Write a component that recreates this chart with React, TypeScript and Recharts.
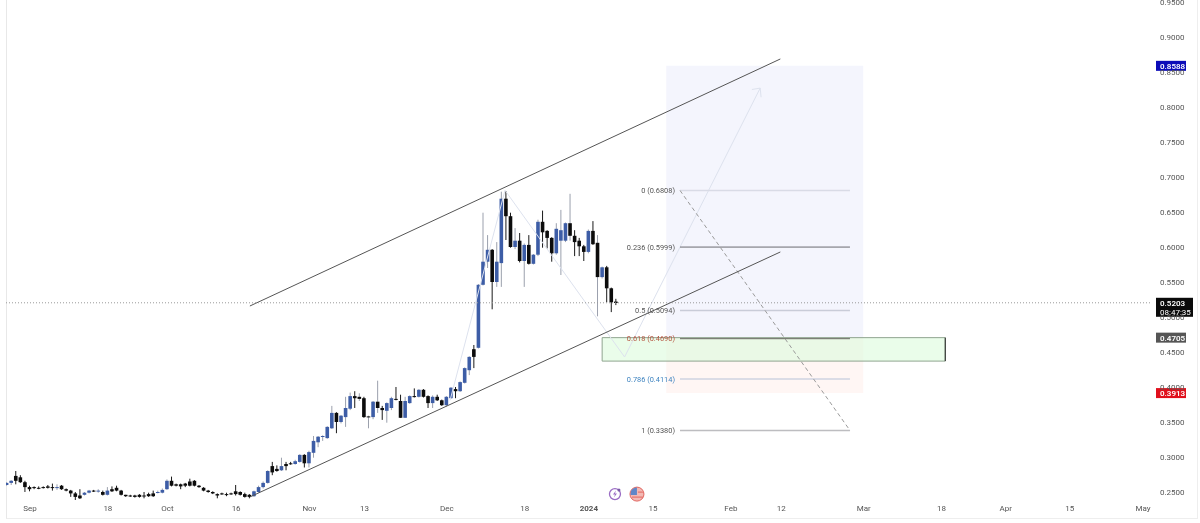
import { Bar, ComposedChart, ReferenceArea, ReferenceDot, ReferenceLine, XAxis, YAxis } from 'recharts';

const FIRST_DAY = -5; // day 0 is 1 Sep 2023

const opens = [
  .260, .263, .273, .271, .264, .257, .257, .256, .257, .258, .257, .256, .259, .254, .252, .248, .245, .246, .249, .252,
  .251, .250, .246, .254, .256, .252, .246, .245, .245, .246, .245, .247, .248, .249, .249, .254, .266, .261, .261, .262,
  .265, .266, .259, .256, .252, .250, .247, .248, .247, .248, .251, .250, .247, .246, .244, .250, .257, .263, .287, .283,
  .281, .290, .291, .290, .293, .303, .291, .306, .321, .329, .327, .341, .363, .350, .357, .369, .387, .386, .384, .358,
  .357, .379, .370, .366, .370, .383, .380, .356, .377, .387, .386, .396, .387, .377, .386, .381, .374, .384, .397, .394,
  .406, .424, .454, .456, .546, .579, .596, .550, .577, .669, .644, .600, .609, .580, .603, .576, .589, .636, .623, .613,
  .591, .609, .609, .634, .616, .609, .601, .593, .623, .606, .557, .571, .541, .522,
];
const highs = [
  .264, .267, .280, .274, .266, .259, .258, .258, .258, .260, .262, .261, .260, .255, .253, .250, .254, .250, .253, .253,
  .254, .252, .257, .258, .259, .253, .246, .246, .246, .247, .250, .249, .252, .252, .255, .268, .272, .262, .262, .263,
  .269, .267, .260, .257, .253, .251, .248, .249, .249, .249, .260, .251, .249, .247, .252, .259, .265, .281, .293, .288,
  .299, .293, .293, .296, .304, .304, .309, .330, .330, .331, .344, .373, .364, .360, .386, .392, .394, .391, .386, .359,
  .380, .409, .373, .378, .386, .400, .389, .386, .388, .398, .397, .397, .388, .388, .389, .382, .387, .400, .400, .408,
  .428, .444, .460, .547, .649, .617, .597, .607, .679, .680, .649, .627, .620, .605, .617, .590, .639, .652, .624, .614,
  .634, .653, .635, .676, .624, .613, .603, .625, .637, .617, .572, .573, .542, .526,
];
const lows = [
  .259, .260, .261, .263, .250, .251, .254, .254, .255, .255, .252, .253, .253, .251, .243, .238, .240, .245, .248, .250,
  .249, .245, .245, .250, .251, .245, .243, .243, .242, .242, .241, .243, .243, .248, .248, .253, .258, .258, .254, .257,
  .258, .258, .256, .251, .249, .247, .241, .246, .244, .246, .245, .245, .242, .241, .243, .249, .255, .262, .274, .279,
  .280, .281, .289, .289, .292, .285, .285, .299, .314, .323, .326, .340, .334, .348, .343, .367, .370, .380, .356, .341,
  .354, .363, .353, .349, .367, .381, .356, .356, .376, .385, .385, .385, .370, .370, .380, .373, .372, .383, .384, .393,
  .405, .417, .427, .455, .545, .570, .511, .543, .543, .610, .599, .597, .578, .543, .575, .575, .587, .599, .598, .579,
  .589, .560, .607, .609, .587, .587, .580, .591, .603, .501, .555, .521, .507, .517,
];
const closes = [
  .263, .266, .266, .264, .257, .254, .256, .255, .256, .256, .256, .257, .254, .252, .248, .243, .241, .249, .252, .251,
  .252, .246, .252, .251, .252, .246, .244, .244, .243, .243, .244, .244, .244, .250, .253, .266, .259, .259, .258, .259,
  .259, .259, .257, .252, .250, .248, .245, .247, .246, .247, .247, .246, .243, .243, .251, .257, .263, .280, .278, .280,
  .287, .287, .290, .294, .303, .291, .307, .323, .329, .330, .343, .363, .350, .359, .370, .387, .384, .383, .357, .357,
  .379, .370, .367, .377, .384, .382, .356, .380, .387, .386, .396, .386, .377, .386, .381, .374, .386, .399, .394, .407,
  .427, .443, .443, .546, .579, .596, .550, .579, .669, .644, .600, .609, .580, .603, .576, .589, .636, .621, .613, .591,
  .626, .624, .634, .616, .607, .601, .593, .623, .604, .557, .571, .541, .521, .520,
];
// down candles whose wick is pale in the picture
const paleWickDays = [72, 74, 76, 118, 124];

const tickDays = [0, 17, 30, 45, 61, 73, 91, 108, 122, 136, 153, 164, 182, 199, 213, 227, 243];
const tickLabels = ['Sep', '18', 'Oct', '16', 'Nov', '13', 'Dec', '18', '2024', '15', 'Feb', '12', 'Mar', '18', 'Apr', '15', 'May'];
const priceTicks = [.25, .3, .35, .4, .45, .5, .55, .6, .65, .7, .75, .8, .85, .9, .95];

const channelStart = 48;
const channelEnd = 163.8;
const upperChannel = [.5157, .8686];
const lowerChannel = [.2429, .5929];

const zigDays = [91.7, 103.7, 129.8, 159.4];
const zigPrices = [.381, .681, .4429, .827];

const fibStart = 141.9;
const fibEnd = 179;
const fibPrices = [.6808, .5999, .5094, .469, .4114, .338];
const fibLabels = ['0 (0.6808)', '0.236 (0.5999)', '0.5 (0.5094)', '0.618 (0.4690)', '0.786 (0.4114)', '1 (0.3380)'];
const fibLineColors = ['#d9dbe6', '#6a6a70', '#c9ccd8', '#66665f', '#cfd3e2', '#bdbdc0'];
const fibLabelColors = ['#555', '#555', '#555', '#b5543f', '#3f84c0', '#555'];

const candles = opens.map((open, i) => ({
  day: FIRST_DAY + i,
  open,
  high: highs[i],
  low: lows[i],
  close: closes[i],
}));

const FONT = 'Roboto, Arial, sans-serif';

function Candle(props: any) {
  const { x, y, width, height, payload } = props;
  const { open, close, high, low, day } = payload;
  const up = close >= open;
  const perUnit = height / (high - low);
  const bodyTop = y + (high - Math.max(open, close)) * perUnit;
  const bodyHeight = Math.max(Math.abs(open - close) * perUnit, 1);
  const mid = x + width / 2;
  const wick = up || paleWickDays.includes(day) ? '#9ba0ad' : '#1a1a1a';
  return (
    <g>
      <line x1={mid} x2={mid} y1={y} y2={y + height} stroke={wick} strokeWidth={1} />
      <rect x={x} y={bodyTop} width={width} height={bodyHeight} fill={up ? '#3d5da6' : '#0c0c0c'} />
    </g>
  );
}

function DayTick(props: any) {
  const { x, y, payload } = props;
  const label = tickLabels[tickDays.indexOf(payload.value)];
  return (
    <text x={x} y={y} textAnchor="middle" dominantBaseline="central" fontFamily={FONT} fontSize={8} fontWeight={label === '2024' ? 700 : 400} fill="#555">
      {label}
    </text>
  );
}

function PriceTag(props: any) {
  const { viewBox, value, color, sub } = props;
  const left = viewBox.x + viewBox.width + 6;
  const mid = viewBox.y;
  if (sub) {
    return (
      <g fontFamily={FONT} fontSize={8} fill="#fff">
        <rect x={left} y={mid - 5} width={37} height={19} fill={color} />
        <text x={left + 4} y={mid + 3} fontWeight={600}>{value}</text>
        <text x={left + 4} y={mid + 12}>{sub}</text>
      </g>
    );
  }
  return (
    <g fontFamily={FONT} fontSize={8} fill="#fff">
      <rect x={left} y={mid - 5} width={30} height={10} fill={color} />
      <text x={left + 4} y={mid + 3} fontWeight={600}>{value}</text>
    </g>
  );
}

function BoltIcon(props: any) {
  const { cx, cy } = props;
  return (
    <g>
      <circle cx={cx} cy={cy} r={5.5} fill="#fff" stroke="#9a6cc4" strokeWidth={1.3} />
      <path d={`M${cx + 1} ${cy - 3.5} L${cx - 2} ${cy + 0.5} L${cx} ${cy + 0.5} L${cx - 1} ${cy + 3.5} L${cx + 2} ${cy - 0.5} L${cx} ${cy - 0.5} Z`} fill="#9a6cc4" />
      <circle cx={cx + 4} cy={cy - 4} r={1.5} fill="#7a5aa8" />
    </g>
  );
}

function FlagIcon(props: any) {
  const { cx, cy } = props;
  return (
    <g>
      <circle cx={cx} cy={cy} r={7} fill="#f3b9b4" stroke="#e2655f" strokeWidth={1} />
      <path d={`M${cx - 6} ${cy - 3} A7 7 0 0 1 ${cx} ${cy - 6.5} L${cx} ${cy + 1} L${cx - 6.5} ${cy + 1} Z`} fill="#5f86c8" />
      <line x1={cx - 5} x2={cx + 6} y1={cy + 3} y2={cy + 3} stroke="#e2655f" strokeWidth={1} />
      <line x1={cx + 1} x2={cx + 6} y1={cy - 2} y2={cy - 2} stroke="#e2655f" strokeWidth={1} />
    </g>
  );
}

const zigColor = '#dde2ee';

export default function App() {
  return (
    <div style={{ position: 'absolute', left: 0, top: 0, width: 1200, height: 523, background: '#fff', overflow: 'hidden', filter: 'blur(0.4px)' }}>
      <div style={{ position: 'absolute', left: 6, top: -1, width: 1190, height: 519, borderLeft: '1px solid #e8e8e8', borderRight: '1px solid #eeeeee', borderBottom: '1px solid #eeeeee' }} />
      <ComposedChart width={1200} height={523} data={candles} margin={{ top: 0, right: 0, bottom: 0, left: 6 }} style={{ position: 'absolute' }}>
        <XAxis
          dataKey="day"
          type="number"
          domain={[-5.24, 244.5]}
          allowDataOverflow
          ticks={tickDays}
          interval={0}
          height={23}
          axisLine={false}
          tickLine={false}
          tickMargin={2}
          tick={<DayTick />}
        />
        <YAxis
          orientation="right"
          domain={[.23857, .95286]}
          allowDataOverflow
          ticks={priceTicks}
          interval={0}
          width={50}
          axisLine={false}
          tickLine={false}
          tickMargin={4}
          tickFormatter={(v: number) => v.toFixed(4)}
          tick={{ fontFamily: FONT, fontSize: 8, fill: '#555', textAnchor: 'start' }}
        />

        <ReferenceArea x1={138.9} x2={181.9} y1={.4705} y2={.8588} fill="#f4f5fd" fillOpacity={1} stroke="none" />
        <ReferenceArea x1={138.9} x2={181.9} y1={.3913} y2={.4705} fill="#fff6f4" fillOpacity={1} stroke="none" />
        <ReferenceArea x1={124.9} x2={199.8} y1={.437} y2={.4705} fill="#dcfbdc" fillOpacity={0.6} stroke="#8fa58f" strokeWidth={1} />
        <ReferenceLine segment={[{ x: 199.8, y: .437 }, { x: 199.8, y: .4705 }]} stroke="#222" strokeWidth={1} />

        {zigDays.slice(1).map((day, i) => (
          <ReferenceLine key={day} segment={[{ x: zigDays[i], y: zigPrices[i] }, { x: day, y: zigPrices[i + 1] }]} stroke={zigColor} strokeWidth={1} />
        ))}
        <ReferenceLine segment={[{ x: 157.6, y: .825 }, { x: 159.4, y: .827 }]} stroke={zigColor} strokeWidth={1} />
        <ReferenceLine segment={[{ x: 159.6, y: .814 }, { x: 159.4, y: .827 }]} stroke={zigColor} strokeWidth={1} />

        {fibPrices.map((price, i) => (
          <ReferenceLine
            key={price}
            segment={[{ x: fibStart, y: price }, { x: fibEnd, y: price }]}
            stroke={fibLineColors[i]}
            strokeWidth={i === 1 || i === 3 ? 1 : 1.5}
            label={{ value: fibLabels[i], position: 'left', offset: 5, fontSize: 7.4, fontFamily: FONT, fill: fibLabelColors[i] }}
          />
        ))}
        <ReferenceLine segment={[{ x: fibStart, y: .6808 }, { x: fibEnd, y: .338 }]} stroke="#9a9a9a" strokeDasharray="4 3" strokeWidth={1} />

        <ReferenceLine segment={[{ x: channelStart, y: upperChannel[0] }, { x: channelEnd, y: upperChannel[1] }]} stroke="#555" strokeWidth={1} />
        <ReferenceLine segment={[{ x: channelStart, y: lowerChannel[0] }, { x: channelEnd, y: lowerChannel[1] }]} stroke="#555" strokeWidth={1} />

        <ReferenceLine y={.5203} stroke="#9a9a9a" strokeDasharray="1 2" strokeWidth={1} />

        <Bar dataKey={(d: any) => [d.low, d.high]} barSize={3.6} shape={<Candle />} isAnimationActive={false} />

        <ReferenceDot x={127.7} y={.247} r={0} ifOverflow="visible" shape={<BoltIcon />} />
        <ReferenceDot x={132.5} y={.247} r={0} ifOverflow="visible" shape={<FlagIcon />} />

        <ReferenceLine y={.8588} stroke="none" ifOverflow="visible" label={<PriceTag value="0.8588" color="#0b0bb8" />} />
        <ReferenceLine y={.5203} stroke="none" ifOverflow="visible" label={<PriceTag value="0.5203" color="#0a0a0a" sub="08:47:35" />} />
        <ReferenceLine y={.4705} stroke="none" ifOverflow="visible" label={<PriceTag value="0.4705" color="#555555" />} />
        <ReferenceLine y={.3913} stroke="none" ifOverflow="visible" label={<PriceTag value="0.3913" color="#e0101c" />} />
      </ComposedChart>
    </div>
  );
}
